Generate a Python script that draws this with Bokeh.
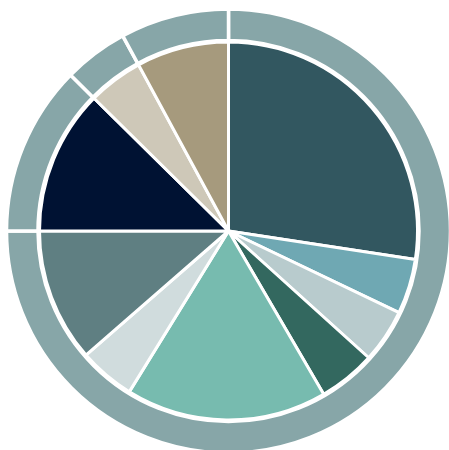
import numpy as np
from bokeh.plotting import figure
from bokeh.models import Range1d, ColumnDataSource
from bokeh.embed import file_html
from bokeh.resources import INLINE

# Inner pie: categories (clockwise from 12 o'clock) and shares (%)
categories = ["Cat 1", "Cat 2", "Cat 3", "Cat 4", "Cat 5",
              "Cat 6", "Cat 7", "Cat 8", "Cat 9", "Cat 10"]
shares = [27.4, 4.7, 4.6, 4.9, 17.2, 4.8, 11.4, 12.4, 4.7, 7.9]
colors = ["#325760", "#6FA8B3", "#B8CBCD", "#33685F", "#77BBAF",
          "#D0DCDD", "#5F7F82", "#001233", "#CEC8B8", "#A69A7D"]

# Outer ring: groups of the inner categories
groups = ["Group A", "Group B", "Group C", "Group D"]
group_members = [7, 1, 1, 1]  # number of consecutive categories in each group
ring_color = "#87A6A8"

vals = np.array(shares, dtype=float)
frac = vals / vals.sum()
cum = np.concatenate([[0.0], np.cumsum(frac)])
start = np.pi / 2 - 2 * np.pi * cum[:-1]
end = np.pi / 2 - 2 * np.pi * cum[1:]

inner = ColumnDataSource(dict(cat=categories, start=start, end=end, color=colors))

idx = np.concatenate([[0], np.cumsum(group_members)])
g_start = [np.pi / 2 - 2 * np.pi * cum[idx[i]] for i in range(len(groups))]
g_end = [np.pi / 2 - 2 * np.pi * cum[idx[i + 1]] for i in range(len(groups))]
outer = ColumnDataSource(dict(grp=groups, start=g_start, end=g_end,
                              color=[ring_color] * len(groups)))

W, H = 449, 450
p = figure(width=W, height=H, output_backend="svg", toolbar_location=None,
           x_range=Range1d(-228, 221), y_range=Range1d(-219.5, 230.5),
           min_border=0, outline_line_color=None)
p.axis.visible = False
p.grid.visible = False
p.background_fill_color = "white"
p.border_fill_color = "white"

p.annular_wedge(x=0, y=0, inner_radius=190.5, outer_radius=222,
                start_angle="start", end_angle="end", direction="clock",
                fill_color="color", line_color="white", line_width=3.5,
                source=outer)
p.wedge(x=0, y=0, radius=189, start_angle="start", end_angle="end",
        direction="clock", fill_color="color", line_color="white",
        line_width=3, source=inner)

open("out.html", "w").write(file_html(p, INLINE))
